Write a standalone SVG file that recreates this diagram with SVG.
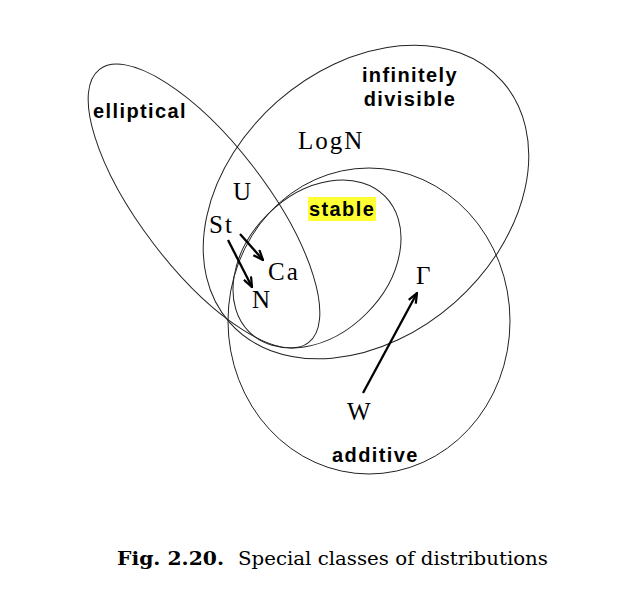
<svg xmlns="http://www.w3.org/2000/svg" width="620" height="610" viewBox="0 0 620 610">
<style>
.set{fill:none;stroke:#222;stroke-width:1}
.lab{font-family:"Liberation Sans",Arial,sans-serif;font-weight:bold;font-size:20px;letter-spacing:1.4px;fill:#000}
.dist{font-family:"Liberation Serif","Times New Roman",serif;font-size:25px;letter-spacing:2px;fill:#000}
.arr{stroke:#000;stroke-width:2.3;fill:none}
.cap{font-family:"DejaVu Serif","Liberation Serif",serif;font-size:18px;fill:#000}
</style>
<defs>
<marker id="ah" viewBox="0 0 12 10" refX="11" refY="5" markerWidth="12" markerHeight="10" orient="auto" markerUnits="userSpaceOnUse">
<path d="M1,1 L11,5 L1,9" fill="none" stroke="#000" stroke-width="2.2"/>
</marker>
</defs>
<rect width="620" height="610" fill="#fff"/>
<g id="elliptical">
<ellipse class="set" cx="204" cy="206" rx="172" ry="63" transform="rotate(52.6 204 206)"/>
<text class="lab" x="93" y="118">elliptical</text>
</g>
<g id="infinitely-divisible">
<ellipse class="set" cx="366" cy="202" rx="182" ry="134" transform="rotate(-41.4 366 202)"/>
<text class="lab" x="410" y="82" text-anchor="middle">infinitely</text>
<text class="lab" x="410" y="106" text-anchor="middle">divisible</text>
</g>
<g id="stable">
<ellipse class="set" cx="317" cy="264" rx="96" ry="70" transform="rotate(-45 317 264)"/>
<rect x="308" y="197" width="68" height="24" fill="#ffff33"/>
<text class="lab" x="309" y="216">stable</text>
</g>
<g id="additive">
<ellipse class="set" cx="369" cy="321" rx="141" ry="153"/>
<text class="lab" x="332" y="462">additive</text>
</g>
<g id="LogN"><text class="dist" x="298" y="149">LogN</text></g>
<g id="U"><text class="dist" x="233" y="200">U</text></g>
<g id="St"><text class="dist" x="209" y="233">St</text></g>
<g id="Ca"><text class="dist" x="268" y="280">Ca</text></g>
<g id="N"><text class="dist" x="252" y="308">N</text></g>
<g id="Gamma"><text class="dist" x="416" y="284">Γ</text></g>
<g id="W"><text class="dist" x="347" y="420">W</text></g>
<g id="connectors">
<line class="arr" x1="240" y1="234" x2="263" y2="260" marker-end="url(#ah)"/>
<line class="arr" x1="228" y1="240" x2="252" y2="287" marker-end="url(#ah)"/>
<line class="arr" x1="363" y1="393" x2="417" y2="293" marker-end="url(#ah)"/>
</g>
<g id="caption">
<text class="cap" x="117" y="565" font-weight="bold" textLength="107" lengthAdjust="spacingAndGlyphs">Fig. 2.20.</text>
<text class="cap" x="238" y="565" textLength="310" lengthAdjust="spacingAndGlyphs">Special classes of distributions</text>
</g>
</svg>
